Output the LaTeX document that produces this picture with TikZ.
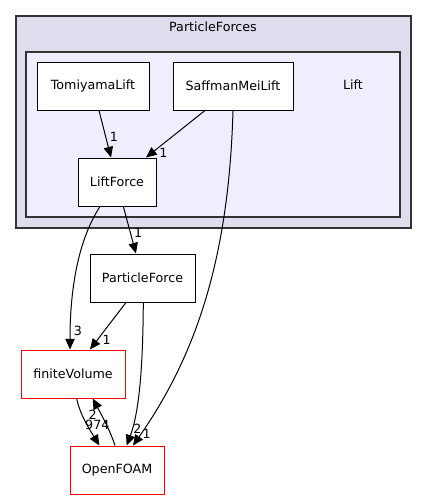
\documentclass[tikz,border=0pt]{standalone}
\usepackage{fontspec}
\setmainfont{DejaVu Sans}
\usetikzlibrary{arrows.meta}
\definecolor{outerfill}{HTML}{DDDDEE}
\definecolor{innerfill}{HTML}{EEEEFF}

\begin{document}
\begin{tikzpicture}
	[x=0.75pt, y=-0.75pt, font=\fontsize{9.5}{11}\selectfont,
	outer/.style = {draw=black!80, line width=1.1pt, fill=outerfill},
	inner/.style = {draw=black!80, line width=1.1pt, fill=innerfill},
	dir/.style = {rectangle, draw, line width=0.75pt, fill=white, minimum height=36pt, inner sep=0},
	ext/.style = {dir, draw=red},
	dep/.style = {-{Triangle[length=8pt, width=7pt]}, line width=0.75pt},
	num/.style = {inner sep=0.5pt}]
	\useasboundingbox (0,0) rectangle (427,500);
	\filldraw [outer] (16,16) rectangle (411,228);
	\node (forces) at (213,27) {ParticleForces};
	\filldraw [inner] (26,52) rectangle (400,217);
	\node (liftdir) at (353,85) {Lift};
	\node (tomiyama) [dir, minimum width=84pt] at (93,86) {TomiyamaLift};
	\node (saffman) [dir, minimum width=90pt] at (233,86) {SaffmanMeiLift};
	\node (liftforce) [dir, minimum width=58.5pt] at (117,182) {LiftForce};
	\node (particleforce) [dir, minimum width=78.75pt] at (142.5,278) {ParticleForce};
	\node (finitevolume) [ext, minimum width=78pt] at (73,374) {finiteVolume};
	\node (openfoam) [ext, minimum width=70.5pt] at (117,470) {OpenFOAM};
	% dependencies
	\draw [dep] ([xshift=4.5pt]tomiyama.south) -- ([xshift=-4.5pt]liftforce.north)
		node [num, at end, xshift=2.25pt, yshift=15.75pt] {1};
	\draw [dep] ([xshift=-21pt]saffman.south) -- ([xshift=21.75pt]liftforce.north)
		node [num, at end, xshift=13pt, yshift=3.5pt] {1};
	\draw [dep] (saffman.south) .. controls (229,250) and (200,350) .. ([xshift=12pt]openfoam.north)
		node [num, at end, xshift=10.25pt, yshift=8.5pt] {1};
	\draw [dep] ([xshift=4.75pt]liftforce.south) -- ([xshift=-4.9pt]particleforce.north)
		node [num, at end, xshift=1.7pt, yshift=15.75pt] {1};
	\draw [dep] ([xshift=-12.75pt]liftforce.south) .. controls (75,245) and (70,300) .. ([xshift=-2.25pt]finitevolume.north)
		node [num, at end, xshift=6pt, yshift=14.25pt] {3};
	\draw [dep] ([xshift=-12.4pt]particleforce.south) -- ([xshift=12.75pt]finitevolume.north)
		node [num, at end, xshift=12.5pt, yshift=7.5pt] {1};
	\draw [dep] ([xshift=0.6pt]particleforce.south) .. controls (143,360) and (140,410) .. ([xshift=7.25pt]openfoam.north)
		node [num, at end, xshift=8pt, yshift=12.5pt] {2};
	\draw [dep] ([xshift=2.75pt]finitevolume.south) .. controls (80,415) and (90,430) .. ([xshift=-13.25pt]openfoam.north)
		node [num, at end, xshift=-1.5pt, yshift=15.75pt] {974};
	\draw [dep] ([xshift=-1.5pt]openfoam.north) .. controls (110,430) and (100,412) .. ([xshift=14.75pt]finitevolume.south)
		node [num, at end, yshift=-12.5pt] {2};
\end{tikzpicture}
\end{document}
